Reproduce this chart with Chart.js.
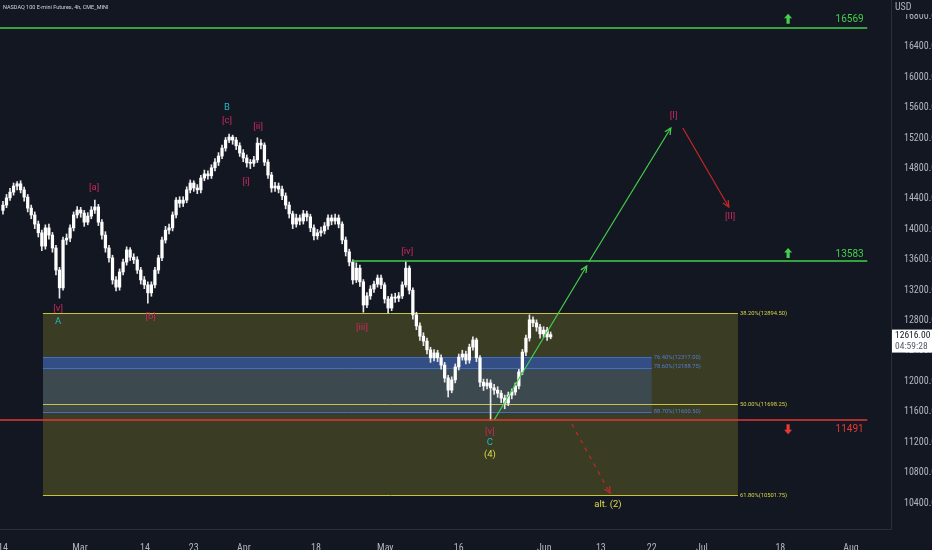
<!DOCTYPE html>
<html><head><meta charset="utf-8">
<script src="https://cdn.jsdelivr.net/npm/chart.js@4.4.0/dist/chart.umd.min.js"></script>
<style>html,body{margin:0;padding:0;background:#131722;overflow:hidden}#wrap{width:932px;height:550px;position:relative}</style>
</head><body><div id="wrap"><canvas id="c"></canvas></div>
<script>
// ---- Data: half-session (≈12h) bars, x in trading days from Feb 14 ----
const barStep = 0.5;
const opens = [14250,14320,14415,14490,14570,14600,14520,14425,14280,14190,
14070,13955,13780,14020,13925,13755,13465,13230,13860,13885,
14020,14190,14255,14215,14095,14175,14255,14295,14095,13925,
13755,13625,13335,13240,13440,13570,13730,13635,13600,13465,
13335,13270,13165,13270,13465,13625,13860,13990,14020,14190,
14385,14345,14385,14520,14610,14545,14520,14675,14730,14705,
14810,14885,14965,15070,15175,15215,15175,15100,15005,14940,
14875,14870,14915,15135,15110,14885,14715,14545,14570,14530,
14440,14320,14205,14070,14150,14110,14205,14165,14020,13915,
13955,13980,14045,14150,14110,14150,14070,13860,13705,13570,
13335,13490,13310,13005,13125,13215,13280,13360,13270,13085,
12965,13110,13095,13125,13270,13490,13200,12875,12730,12595,
12530,12415,12310,12375,12310,12215,12045,11885,12020,12190,
12320,12360,12280,12450,12545,12310,11990,11940,11980,11915,
11885,11845,11780,11715,11820,11860,11940,12125,12385,12570,
12810,12770,12715,12625,12675,12585];
const highs = [14370,14460,14540,14610,14630,14640,14555,14460,14320,14230,
14110,13990,14060,14070,13960,13790,13500,13900,13940,14060,
14230,14300,14290,14250,14220,14300,14385,14330,14130,13970,
13790,13660,13380,13480,13610,13770,13760,13680,13640,13500,
13380,13310,13310,13500,13660,13900,14040,14070,14230,14420,
14430,14430,14560,14650,14640,14590,14710,14780,14770,14850,
14930,15010,15110,15210,15255,15240,15210,15140,15050,14980,
14920,14960,15205,15180,15140,14920,14750,14620,14610,14570,
14480,14360,14240,14200,14190,14250,14240,14200,14060,14000,
14030,14090,14190,14190,14200,14190,14100,13900,13740,13600,
13560,13530,13340,13170,13260,13320,13400,13400,13300,13120,
13150,13160,13170,13310,13575,13520,13230,12910,12770,12640,
12570,12450,12420,12410,12350,12250,12080,12060,12230,12360,
12410,12400,12490,12585,12570,12340,12030,12030,12020,11960,
11930,11880,11820,11860,11900,11980,12160,12420,12610,12875,
12850,12810,12750,12720,12710,12650];
const lows = [14200,14285,14380,14450,14520,14480,14370,14230,14140,14010,
13900,13720,13740,13870,13700,13400,13095,13200,13800,13840,
13980,14150,14160,14040,14060,14140,14210,14050,13870,13700,
13570,13280,13190,13200,13400,13530,13590,13550,13420,13280,
13220,13030,13120,13230,13420,13590,13820,13940,13980,14150,
14290,14300,14350,14480,14500,14470,14480,14640,14660,14670,
14770,14840,14930,15030,15140,15120,15050,14960,14890,14820,
14800,14830,14880,15060,14840,14670,14490,14500,14480,14390,
14270,14150,14010,14030,14060,14070,14110,13970,13860,13870,
13910,13940,14000,14060,14070,14020,13810,13650,13520,13280,
13300,13250,12910,12970,13080,13170,13240,13220,13030,12900,
12930,13040,13050,13090,13240,13150,12820,12680,12540,12470,
12360,12250,12270,12260,12160,11990,11795,11850,11980,12150,
12280,12230,12240,12410,12260,11930,11880,11900,11490,11830,
11790,11720,11640,11680,11770,11820,11900,12090,12340,12530,
12720,12660,12570,12580,12540,12560];
const closes = [14320,14415,14490,14570,14600,14520,14425,14280,14190,14070,
13955,13780,14020,13925,13755,13465,13230,13860,13885,14020,
14190,14255,14215,14095,14175,14255,14295,14095,13925,13755,
13625,13335,13240,13440,13570,13730,13635,13600,13465,13335,
13270,13165,13270,13465,13625,13860,13990,14020,14190,14385,
14345,14385,14520,14610,14545,14520,14675,14730,14705,14810,
14885,14965,15070,15175,15215,15175,15100,15005,14940,14875,
14870,14915,15135,15110,14885,14715,14545,14570,14530,14440,
14320,14205,14070,14150,14110,14205,14165,14020,13915,13955,
13980,14045,14150,14110,14150,14070,13860,13705,13570,13335,
13490,13310,13005,13125,13215,13280,13360,13270,13085,12965,
13110,13095,13125,13270,13490,13200,12875,12730,12595,12530,
12415,12310,12375,12310,12215,12045,11885,12020,12190,12320,
12360,12280,12450,12545,12310,11990,11940,11980,11915,11885,
11845,11780,11715,11820,11860,11940,12125,12385,12570,12810,
12770,12715,12625,12675,12585,12616];

const tickDays   = [0,10.9,20.1,27,34.1,44.3,54.1,64.5,76.6,84.6,91.8,98.9,110,120];
const tickLabels = ['14','Mar','14','23','Apr','18','May','16','Jun','13','22','Jul','18','Aug'];
const priceTicks = [10400,10800,11200,11600,12000,12400,12800,13200,13600,14000,14400,14800,15200,15600,16000,16400,16800];
const lastPrice = 12616.00;
const countdown = '04:59:28';

// horizontal levels [fromDay, toDay, price]
const levelHigh = [-0.42, 122.3, 16650];
const levelMid  = [49.4, 122.3, 13583];
const levelLow  = [-0.42, 122.3, 11491];
const levelTexts = [
  {t:'16569', d:121.8, p:16756, c:'#43d04a'},
  {t:'13583', d:121.8, p:13676, c:'#43d04a'},
  {t:'11491', d:121.8, p:11362, c:'#e53935'}
];
const levelIcons = [
  {d:111.1, p:16770, up:true},
  {d:111.1, p:13690, up:true},
  {d:111.1, p:11370, up:false}
];

// projection arrows [[day,price],[day,price]]
const arrowG1 = [[69.5,11492],[82.6,13518]];
const arrowG2 = [[82.9,13571],[94.5,15334]];
const arrowR1 = [[96.2,15334],[102.7,14295]];
const arrowR2 = [[80.5,11439],[85.9,10531]];

// fibonacci zones
const fibYellowSpan = [5.66, 104.0];
const fibYellowLevels = [12894.5, 11698.25, 10501.75];
const fibYellowTexts  = ['38.20%(12894.50)','50.00%(11698.25)','61.80%(10501.75)'];
const fibBlueSpan = [5.66, 91.8];
const fibBlueLevels = [12320, 12175, 11600];
const fibBlueTexts  = ['76.40%(12317.00)','78.60%(12188.75)','88.70%(11600.50)'];

// wave labels
const waveTexts = ['[v]','A','[a]','[b]','B','[c]','[ii]','[i]','[iii]','[iv]','[v]','C','(4)','[I]','[II]','alt. (2)'];
const waveDays  = [7.8,7.8,12.9,20.9,31.7,31.7,36.1,34.4,50.8,57.2,68.9,68.9,68.9,94.9,102.9,85.6];
const wavePrices= [12953,12781,14545,12847,15598,15427,15348,14624,12703,13703,11334,11190,11030,15492,14163,10373];
const waveKinds = ['m','t','m','m','t','m','m','m','m','m','m','t','y','m','m','y'];

// ---- Chart ----
const WAVE_COL = {m:'#c92a5e', t:'#26b8c6', y:'#e0db4a'};
const GREEN = '#43d04a', RED = '#e53935', RED2 = '#c62828';
const TICKFONT = {family:"'Liberation Sans Narrow','Roboto Condensed',Roboto,sans-serif", size:10};

const xs = closes.map((_, i) => i * barStep);
const wickData = xs.map((x, i) => ({x, y:[lows[i], highs[i]]}));
const bodyData = xs.map((x, i) => ({x, y:[opens[i], closes[i]]}));
const seg = (a) => a.map(p => ({x:p[0], y:p[1]}));
const lvl = (l) => [{x:l[0], y:l[2]}, {x:l[1], y:l[2]}];

function lineDs(data, color, width, dash) {
  return {type:'line', data, borderColor:color, borderWidth:width, pointRadius:0,
          fill:false, tension:0, borderDash:dash||[], order:0};
}

function head(ctx, x1, y1, x2, y2, color) {
  const a = Math.atan2(y2 - y1, x2 - x1), L = 7, s = 0.45;
  ctx.save(); ctx.strokeStyle = color; ctx.lineWidth = 1.3; ctx.setLineDash([]);
  ctx.beginPath();
  ctx.moveTo(x2 - L*Math.cos(a - s), y2 - L*Math.sin(a - s));
  ctx.lineTo(x2, y2);
  ctx.lineTo(x2 - L*Math.cos(a + s), y2 - L*Math.sin(a + s));
  ctx.stroke(); ctx.restore();
}

const overlay = {
  id:'overlay',
  beforeDatasetsDraw(chart) {
    const {ctx, scales:{x, y}} = chart;
    const X = d => x.getPixelForValue(d), Y = p => y.getPixelForValue(p);
    ctx.save();
    const yx0 = X(fibYellowSpan[0]), yx1 = X(fibYellowSpan[1]);
    ctx.fillStyle = 'rgba(150,145,40,0.30)';
    ctx.fillRect(yx0, Y(fibYellowLevels[0]), yx1 - yx0, Y(fibYellowLevels[2]) - Y(fibYellowLevels[0]));
    const bx0 = X(fibBlueSpan[0]), bx1 = X(fibBlueSpan[1]);
    ctx.fillStyle = 'rgba(45,95,215,0.55)';
    ctx.fillRect(bx0, Y(fibBlueLevels[0]), bx1 - bx0, Y(fibBlueLevels[1]) - Y(fibBlueLevels[0]));
    ctx.fillStyle = 'rgba(70,110,190,0.28)';
    ctx.fillRect(bx0, Y(fibBlueLevels[1]), bx1 - bx0, Y(fibBlueLevels[2]) - Y(fibBlueLevels[1]));
    ctx.lineWidth = 1;
    ctx.strokeStyle = '#3f6fc8';
    fibBlueLevels.forEach(p => { const yy = Math.round(Y(p)) + 0.5; ctx.beginPath(); ctx.moveTo(bx0, yy); ctx.lineTo(bx1, yy); ctx.stroke(); });
    ctx.strokeStyle = '#c9c33c';
    fibYellowLevels.forEach(p => { const yy = Math.round(Y(p)) + 0.5; ctx.beginPath(); ctx.moveTo(yx0, yy); ctx.lineTo(yx1, yy); ctx.stroke(); });
    ctx.restore();
  },
  afterDatasetsDraw(chart) {
    const {ctx, scales:{x, y}} = chart;
    const X = d => x.getPixelForValue(d), Y = p => y.getPixelForValue(p);
    ctx.save();
    [[arrowG1, GREEN],[arrowG2, GREEN],[arrowR1, RED2],[arrowR2, RED2]].forEach(([a, c]) => {
      head(ctx, X(a[0][0]), Y(a[0][1]), X(a[1][0]), Y(a[1][1]), c);
    });
    ctx.font = '5.8px Roboto, sans-serif'; ctx.textBaseline = 'middle'; ctx.textAlign = 'left';
    ctx.fillStyle = '#d9d44a';
    fibYellowLevels.forEach((p, i) => ctx.fillText(fibYellowTexts[i], X(fibYellowSpan[1]) + 2, Y(p)));
    ctx.fillStyle = '#4f7fd8';
    fibBlueLevels.forEach((p, i) => ctx.fillText(fibBlueTexts[i], X(fibBlueSpan[1]) + 2, Y(p) + (i === 1 ? -2 : 0)));
    ctx.font = '9.5px Roboto, sans-serif'; ctx.textAlign = 'center';
    waveTexts.forEach((t, i) => {
      ctx.fillStyle = WAVE_COL[waveKinds[i]];
      ctx.fillText(t, X(waveDays[i]), Y(wavePrices[i]));
    });
    ctx.font = "10px 'Liberation Sans Narrow', Roboto, sans-serif"; ctx.textAlign = 'right';
    levelTexts.forEach(l => { ctx.fillStyle = l.c; ctx.fillText(l.t, X(l.d), Y(l.p)); });
    levelIcons.forEach(ic => {
      const cx = X(ic.d), cy = Y(ic.p), s = ic.up ? -1 : 1;
      ctx.fillStyle = ic.up ? GREEN : RED;
      ctx.beginPath();
      ctx.moveTo(cx, cy + s*5);
      ctx.lineTo(cx + 4, cy + s*0.5);
      ctx.lineTo(cx + 1.6, cy + s*0.5);
      ctx.lineTo(cx + 1.6, cy - s*5);
      ctx.lineTo(cx - 1.6, cy - s*5);
      ctx.lineTo(cx - 1.6, cy + s*0.5);
      ctx.lineTo(cx - 4, cy + s*0.5);
      ctx.closePath(); ctx.fill();
    });
    ctx.restore();
  },
  afterDraw(chart) {
    const {ctx, chartArea, scales:{y}} = chart;
    ctx.save();
    ctx.font = '5.5px Roboto, sans-serif'; ctx.fillStyle = '#d1d4dc';
    ctx.textAlign = 'left'; ctx.textBaseline = 'middle';
    ctx.fillText('NASDAQ 100 E-mini Futures, 4h, CME_MINI', 3, 8);
    ctx.fillStyle = '#131722'; ctx.fillRect(chartArea.right + 1, 0, 932 - chartArea.right, 14);
    ctx.font = TICKFONT.size + 'px ' + TICKFONT.family; ctx.fillStyle = '#b2b5be';
    ctx.fillText('USD', chartArea.right + 4, 7);
    const py = y.getPixelForValue(lastPrice);
    ctx.fillStyle = '#ffffff';
    ctx.fillRect(chartArea.right + 1, py - 5, 932 - chartArea.right, 23);
    ctx.font = "9.5px " + TICKFONT.family;
    ctx.fillStyle = '#131722'; ctx.fillText(lastPrice.toFixed(2), chartArea.right + 4, py + 1.5);
    ctx.fillStyle = '#555a66'; ctx.fillText(countdown, chartArea.right + 4, py + 12);
    ctx.restore();
  }
};

new Chart(document.getElementById('c'), {
  type:'bar',
  data:{datasets:[
    lineDs(lvl(levelHigh), GREEN, 1.5),
    lineDs(lvl(levelMid), GREEN, 1.5),
    lineDs(lvl(levelLow), RED, 1.5),
    lineDs(seg(arrowG1), GREEN, 1.2),
    lineDs(seg(arrowG2), GREEN, 1.2),
    lineDs(seg(arrowR1), RED2, 1.2),
    lineDs(seg(arrowR2), RED2, 1.2, [4,5]),
    {type:'bar', data:bodyData, backgroundColor:'#ffffff', borderWidth:0, barThickness:2.6, minBarLength:1, grouped:false, order:1},
    {type:'bar', data:wickData, backgroundColor:'#e6e7ea', borderWidth:0, barThickness:1, grouped:false, order:2}
  ]},
  options:{
    responsive:true, maintainAspectRatio:false, animation:false,
    layout:{padding:0},
    plugins:{legend:{display:false}, tooltip:{enabled:false}},
    scales:{
      x:{type:'linear', min:-0.42, max:125.66, offset:false,
         grid:{display:false}, border:{display:true, color:'#2a2e39'},
         afterBuildTicks(s){ s.ticks = tickDays.map(v => ({value:v})); },
         afterFit(s){ s.height = 21; s.paddingLeft = 0; s.paddingRight = 0; },
         ticks:{autoSkip:false, maxRotation:0, padding:5, color:'#b2b5be', font:TICKFONT,
                callback:(v, i) => tickLabels[i]}},
      y:{type:'linear', position:'right', min:10058, max:17018,
         grid:{display:false}, border:{display:true, color:'#2a2e39'},
         afterBuildTicks(s){ s.ticks = priceTicks.map(v => ({value:v})); },
         afterFit(s){ s.width = 41; s.paddingTop = 0; s.paddingBottom = 0; },
         ticks:{autoSkip:false, padding:5, color:'#b2b5be', font:TICKFONT,
                callback:v => Number(v).toFixed(2)}}
    }
  },
  plugins:[overlay]
});
</script>
</body></html>
